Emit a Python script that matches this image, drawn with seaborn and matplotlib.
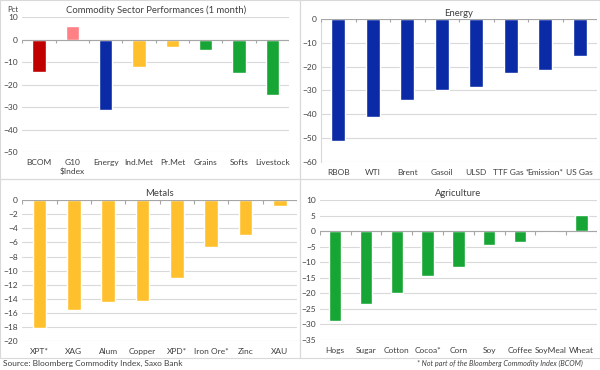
import numpy as np
import pandas as pd
import matplotlib
matplotlib.use("Agg")
import matplotlib.pyplot as plt
from matplotlib.patches import Rectangle
import seaborn as sns

# data (pct change, 1 month)
sector_names = ["BCOM", "G10\n$Index", "Energy", "Ind.Met", "Pr.Met", "Grains", "Softs", "Livestock"]
sector_vals = [-14.5, 6.0, -31.5, -12.0, -3.5, -4.5, -15.0, -24.5]

energy_names = ["RBOB", "WTI", "Brent", "Gasoil", "ULSD", "TTF Gas *", "Emission*", "US Gas"]
energy_vals = [-51.0, -41.2, -34.0, -29.6, -28.6, -22.6, -21.4, -15.6]

metal_names = ["XPT*", "XAG", "Alum", "Copper", "XPD*", "Iron Ore*", "Zinc", "XAU"]
metal_vals = [-18.2, -15.6, -14.4, -14.3, -11.1, -6.6, -4.9, -0.8]

agri_names = ["Hogs", "Sugar", "Cotton", "Cocoa*", "Corn", "Soy", "Coffee", "SoyMeal", "Wheat"]
agri_vals = [-29.0, -23.5, -20.0, -14.5, -11.5, -4.5, -3.3, -0.1, 5.1]

RED = "#C00000"
PINK = "#FF8085"
BLUE = "#0A2AA6"
GOLD = "#FFC02E"
GREEN = "#17A535"
sector_colors = [RED, PINK, BLUE, GOLD, GOLD, GREEN, GREEN, GREEN]

TXT = "#404040"
GRID = "#D9D9D9"

sns.set_theme(style="white")
plt.rcParams["font.family"] = ["Lato", "DejaVu Sans"]

fig = plt.figure(figsize=(6, 3.7), dpi=100)


def panel(rect, names, vals, colors, title, ylim, step, left_spine=False, tpad=3):
    ax = fig.add_axes(rect)
    df = pd.DataFrame({"name": names, "val": vals})
    sns.barplot(data=df, x="name", y="val", hue="name", palette=colors,
                legend=False, width=0.4, saturation=1, ax=ax, zorder=3)
    ax.set_ylim(*ylim)
    ax.set_xlim(-0.5, len(names) - 0.5)
    ax.set_yticks(np.arange(ylim[0], ylim[1] + step / 2, step))
    ax.yaxis.grid(True, color=GRID, lw=0.8, zorder=0)
    ax.set_axisbelow(True)
    for s in ax.spines.values():
        s.set_visible(False)
    if left_spine:
        ax.spines["left"].set_visible(True)
        ax.spines["left"].set_color(GRID)
        ax.spines["left"].set_linewidth(0.8)
    ax.axhline(0, color="#A6A6A6", lw=0.8, zorder=4)
    # excel style tick marks on the zero line at category boundaries
    edges = np.arange(len(names) + 1) - 0.5
    span = ylim[1] - ylim[0]
    ax.vlines(edges, 0, -span * 0.025, color="#A6A6A6", lw=0.8, zorder=4)
    ax.tick_params(axis="both", length=0, labelsize=6, labelcolor=TXT, pad=3)
    ax.tick_params(axis="x", pad=5)
    ax.set_xlabel("")
    ax.set_ylabel("")
    ax.set_title(title, fontsize=6.8, color=TXT, pad=tpad)
    return ax


ax1 = panel([0.037, 0.589, 0.445, 0.365], sector_names, sector_vals, sector_colors,
            "Commodity Sector Performances (1 month)", (-50, 10), 10)
ax2 = panel([0.535, 0.562, 0.460, 0.387], energy_names, energy_vals, [BLUE] * len(energy_names),
            "Energy", (-60, 0), 10, left_spine=True, tpad=2)
ax3 = panel([0.037, 0.078, 0.458, 0.381], metal_names, metal_vals, [GOLD] * len(metal_names),
            "Metals", (-20, 0), 2)
ax4 = panel([0.533, 0.081, 0.462, 0.378], agri_names, agri_vals, [GREEN] * len(agri_names),
            "Agriculture", (-35, 10), 5)

fig.text(0.012, 0.985, "Pct", fontsize=5.5, color=TXT, va="top")

# panel frames
H = 370.0
for x0, y0, x1, y1 in [(0, 0, 300, 179), (300, 0, 600, 179), (0, 179, 300, 358), (300, 179, 600, 358)]:
    fig.add_artist(Rectangle((x0 / 600, 1 - y1 / H), (x1 - x0) / 600, (y1 - y0) / H,
                             transform=fig.transFigure, fill=False, ec=GRID, lw=0.8))

fig.text(0.005, 0.018, "Source: Bloomberg Commodity Index, Saxo Bank", fontsize=6, color=TXT, va="center")
fig.text(0.695, 0.018, "* Not part of the Bloomberg Commodity Index (BCOM)", fontsize=5.2,
         color=TXT, style="italic", va="center")

fig.savefig("out.png", dpi=100, facecolor="white")
